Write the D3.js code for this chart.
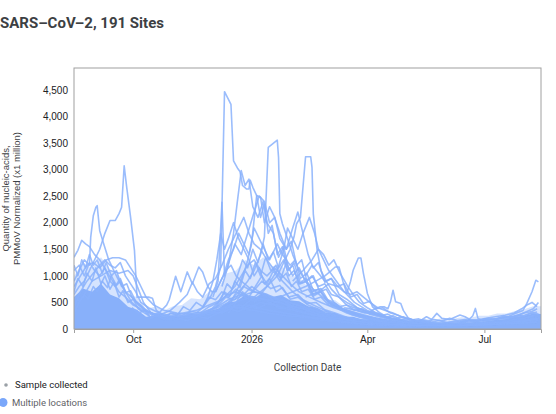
<!DOCTYPE html>
<html>
<head>
<meta charset="utf-8">
<script src="https://cdn.jsdelivr.net/npm/d3@7"></script>
<style>
  body { margin: 0; background: #fff; }
  svg { display: block; }
</style>
</head>
<body>
<div class="chart"></div>
<script>
// first collection day, every site point is [days after start, value]
var startDay = "2025-08-16";
var endDay = "2026-08-14";

// dense mass of the 191 sites, weekly levels
var coreLevel = [600, 760, 700, 850, 650, 580, 420, 360, 230, 250, 200, 240, 230, 290, 270, 340,
  380, 500, 520, 640, 580, 680, 600, 640, 540, 520, 430, 400, 300, 300, 230, 230, 180, 180, 130,
  130, 100, 110, 90, 100, 95, 105, 100, 115, 115, 140, 150, 180, 190, 230, 250, 290, 280];
var fringeLevel = [1000, 1250, 1150, 1350, 1100, 1000, 650, 600, 380, 420, 350, 430, 450, 580, 560,
  700, 760, 1050, 1100, 1300, 1200, 1350, 1180, 1200, 1000, 980, 780, 740, 560, 540, 420, 420, 320,
  320, 230, 240, 190, 200, 170, 190, 180, 200, 190, 220, 210, 250, 250, 290, 290, 340, 370, 430, 430];

var s1 = [[0,650],[4,800],[8,900],[12,1100],[16,1300],[20,1500],[24,1800],[28,2040],[32,2040],[35,2170],[37,2290],[39,3070],[41,2660],[44,2100],[47,1480],[49,600],[53,600],[58,600],[61,580],[64,350],[70,250],[77,300],[84,260],[91,330],[98,300],[105,420],[112,500],[119,640],[126,700],[133,600],[140,520],[147,560],[154,480],[161,420],[168,380],[175,320],[182,280],[189,220],[196,180],[203,150],[210,120],[224,90],[238,70],[252,80],[266,60],[280,70],[294,80],[308,90],[322,120],[336,150],[350,200],[358,260]];
var s2 = [[0,900],[4,1100],[8,1300],[12,1200],[13,1730],[15,2130],[17,2290],[18,2320],[20,1850],[23,1610],[27,1300],[31,1100],[35,900],[40,700],[45,500],[52,350],[60,300],[70,200],[80,250],[90,220],[100,260],[110,300],[120,420],[130,380],[140,350],[150,300],[165,250],[180,220],[195,160],[210,130],[230,80],[250,60],[270,50],[290,60],[310,70],[330,90],[350,140],[360,180]];
var s3 = [[0,1350],[3,1480],[6,1667],[9,1600],[12,1550],[16,1400],[20,1300],[25,1100],[30,900],[35,700],[40,600],[46,450],[52,380],[60,300],[70,250],[80,200],[92,240],[104,300],[116,380],[128,450],[140,400],[152,350],[164,300],[176,250],[190,200],[205,150],[220,110],[240,80],[260,60],[280,50],[300,60],[320,80],[340,110],[360,140]];
var s4 = [[0,800],[5,1000],[10,1200],[15,1250],[20,1150],[25,1300],[30,1340],[35,1340],[40,1300],[44,1150],[48,1000],[52,800],[56,600],[62,450],[70,350],[80,300],[90,280],[100,320],[110,400],[120,550],[130,650],[140,600],[150,550],[160,500],[172,420],[184,350],[196,280],[210,200],[225,140],[245,100],[265,70],[285,60],[305,70],[325,90],[345,120],[360,160]];
var s5 = [[0,500],[7,600],[14,900],[21,1000],[28,1100],[35,1050],[42,1100],[46,1000],[50,750],[54,500],[60,300],[68,200],[78,180],[88,220],[98,260],[108,330],[118,420],[128,520],[138,600],[148,560],[158,500],[170,430],[182,360],[195,280],[210,200],[228,140],[248,90],[268,70],[288,60],[308,70],[328,90],[348,120],[360,150]];
var s6 = [[60,250],[66,300],[72,450],[74,550],[79,993],[83,700],[88,1074],[92,850],[97,1167],[100,1074],[104,800],[107,700],[110,700],[114,900],[118,1100],[122,1200],[126,1000],[130,900],[135,800],[140,700],[147,650],[154,600],[161,500],[168,420],[175,350],[182,300],[196,200],[210,150],[224,100],[238,80],[252,60],[266,50],[280,60],[294,70],[308,80],[322,100],[336,120],[350,150],[360,170]];
var s7 = [[55,300],[65,250],[75,350],[82,500],[88,650],[92,880],[96,700],[100,600],[105,850],[110,950],[115,1200],[120,1500],[124,1700],[128,1900],[132,2100],[136,1800],[140,1600],[145,1500],[150,1300],[156,1100],[162,900],[170,700],[178,550],[186,450],[195,350],[205,250],[220,180],[240,120],[260,90],[280,80],[300,90],[320,100],[340,140],[360,200]];
var s8 = [[100,400],[106,600],[110,800],[114,1170],[117,4464],[122,4227],[124,3165],[127,3030],[129,2965],[131,2700],[134,2635],[136,2635],[137,2800],[139,2665],[142,2510],[145,2100],[148,2350],[151,1800],[154,1950],[158,1400],[162,1550],[166,1100],[170,1200],[175,850],[180,900],[186,620],[192,700],[198,480],[205,420],[215,280],[230,180],[250,120],[270,90],[290,80],[310,90],[330,110],[350,150],[360,180]];
var s9 = [[108,600],[112,900],[115,2385],[117,1000],[121,1300],[125,1600],[130,1400],[135,1800],[140,2200],[144,2500],[148,2400],[152,2000],[156,2100],[160,1800],[165,1500],[169,1650],[173,1200],[177,1300],[181,900],[186,1000],[191,700],[196,750],[202,500],[210,350],[225,250],[245,150],[265,100],[285,80],[305,80],[325,100],[345,130],[360,160]];
var s10 = [[120,500],[128,700],[135,900],[140,1100],[145,1400],[148,1730],[151,3415],[158,3553],[159,3227],[160,2167],[162,1980],[166,1700],[170,1400],[175,1100],[180,900],[188,700],[196,550],[205,400],[215,300],[230,200],[250,120],[270,100],[290,90],[310,100],[330,120],[350,160],[360,200]];
var s11 = [[130,400],[140,600],[150,800],[158,1000],[164,1300],[168,1500],[171,1730],[173,1980],[176,2100],[180,3240],[184,3240],[185,3040],[186,2167],[189,1480],[192,1100],[196,900],[200,750],[206,600],[212,500],[220,400],[230,300],[245,200],[260,130],[280,100],[300,90],[320,110],[340,140],[358,190]];
var s12 = [[115,800],[120,1200],[124,1800],[127,2400],[130,2980],[133,2700],[136,2820],[139,2300],[143,2100],[147,2400],[150,2000],[155,1800],[159,1350],[163,1550],[167,1100],[171,1250],[176,850],[181,900],[186,650],[192,700],[200,450],[212,350],[225,250],[240,180],[260,110],[280,90],[300,80],[320,100],[340,130],[360,170]];
var s13 = [[120,400],[128,800],[134,1200],[138,1600],[142,2510],[145,2480],[148,2000],[152,2300],[156,2100],[160,1700],[165,1500],[170,1900],[174,2200],[178,1800],[182,1400],[186,1150],[190,1250],[195,880],[200,950],[206,650],[212,560],[220,400],[232,300],[245,200],[260,140],[280,100],[300,90],[320,100],[340,130],[360,160]];
var s14 = [[140,500],[150,800],[158,1100],[163,1500],[166,1900],[170,1700],[174,1500],[178,1800],[183,2100],[187,1800],[190,1500],[194,1300],[198,1100],[204,900],[210,700],[218,500],[228,350],[240,250],[255,150],[270,100],[290,80],[310,80],[330,100],[350,140],[360,170]];
var s15 = [[110,700],[116,1000],[120,1300],[124,1500],[128,1800],[132,1600],[136,1400],[140,1900],[144,1700],[148,1500],[152,1300],[158,1600],[162,1400],[168,1200],[172,1300],[176,950],[181,1050],[186,720],[192,760],[198,520],[206,400],[220,300],[235,200],[250,130],[270,90],[290,80],[310,70],[330,90],[350,120],[360,150]];
var s16 = [[160,600],[170,700],[180,800],[188,900],[195,1000],[200,1100],[203,1167],[206,1167],[209,900],[212,674],[215,900],[217,1105],[221,1336],[223,1336],[225,1043],[228,674],[232,418],[238,300],[245,200],[255,150],[265,120],[280,100],[300,90],[320,100],[340,120],[360,150]];
var s17 = [[170,900],[178,1100],[185,1300],[190,1500],[194,1400],[198,1200],[202,1300],[207,1043],[210,918],[213,793],[217,650],[222,500],[228,400],[235,300],[245,200],[260,130],[280,90],[300,80],[320,90],[340,120],[360,160]];
var s18 = [[210,400],[220,350],[228,300],[234,380],[238,420],[241,418],[244,380],[246,511],[248,730],[250,511],[254,481],[256,350],[260,200],[266,150],[275,120],[290,100],[305,110],[320,120],[335,140],[350,170],[360,200]];
var s19 = [[280,100],[290,120],[300,130],[306,150],[310,250],[312,387],[314,200],[318,150],[326,180],[334,200],[342,230],[350,260],[356,300],[360,320]];
var s20 = [[300,120],[310,140],[320,160],[330,200],[338,240],[344,300],[349,350],[352,481],[356,700],[359,918],[361,886]];
var s21 = [[230,300],[238,250],[246,200],[254,180],[262,150],[268,140],[274,230],[278,180],[282,294],[286,200],[292,180],[296,220],[300,262],[304,230],[308,170],[314,150],[320,170],[328,190],[336,220],[344,250],[350,300],[356,330],[360,380]];
var s22 = [[300,150],[315,180],[325,220],[335,260],[342,300],[348,380],[352,450],[356,500],[360,420]];
var s23 = [[180,600],[190,700],[198,850],[205,800],[210,700],[215,650],[220,700],[225,600],[230,500],[236,400],[242,350],[248,300],[255,220],[265,150],[280,110],[300,100],[320,110],[340,130],[360,180]];
var s24 = [[0,1100],[4,1200],[8,1000],[12,1250],[16,1100],[20,1000],[24,1150],[28,900],[32,800],[36,950],[40,700],[45,600],[50,450],[56,350],[64,250],[72,200],[80,220],[90,250],[100,300],[110,380],[120,500],[130,620],[140,700],[150,650],[160,550],[170,480],[180,400],[190,330],[200,260],[215,180],[230,120],[250,80],[270,60],[290,60],[310,70],[330,90],[350,120],[360,150]];
var s25 = [[0,400],[5,700],[10,900],[15,1050],[20,1200],[24,1300],[28,1200],[32,1150],[36,1250],[40,1000],[44,850],[48,700],[52,500],[58,400],[66,300],[75,250],[85,300],[95,350],[105,450],[115,550],[125,800],[130,1000],[135,1200],[140,1300],[145,1100],[150,1000],[156,1150],[162,1000],[168,850],[175,700],[183,600],[192,500],[202,400],[215,300],[230,200],[250,130],[270,100],[290,90],[310,90],[330,100],[350,130],[360,160]];
var s26 = [[95,300],[100,400],[104,600],[108,900],[111,1300],[114,1792],[117,1500],[120,1700],[124,2000],[128,1700],[132,1500],[136,1300],[140,1000],[144,1150],[148,850],[152,950],[157,700],[162,780],[168,560],[174,600],[182,450],[192,350],[205,250],[220,180],[240,120],[260,80],[280,60],[300,60],[320,70],[340,100],[360,130]];
var s27 = [[0,700],[3,950],[7,800],[10,1050],[14,900],[17,1150],[21,850],[24,1000],[28,750],[31,880],[35,600],[38,720],[42,500],[46,560],[50,380],[55,300],[60,220],[66,260],[72,180],[80,200],[88,160],[96,240],[104,200],[112,300],[120,380],[128,330],[136,450],[144,400],[152,500],[160,380],[168,420],[176,320],[184,340],[192,250],[200,230],[210,170],[222,140],[236,100],[250,80],[265,60],[280,70],[295,55],[310,80],[325,90],[340,110],[352,150],[361,170]];
var s28 = [[0,300],[4,500],[8,650],[11,560],[15,800],[18,700],[22,900],[26,780],[29,1000],[33,820],[36,900],[40,680],[44,720],[48,520],[52,450],[57,330],[62,280],[68,200],[75,230],[82,180],[90,300],[97,260],[104,350],[111,420],[118,600],[125,550],[132,800],[139,700],[146,900],[153,760],[160,820],[167,600],[174,650],[181,480],[188,500],[195,360],[203,300],[212,220],[222,180],[234,120],[248,90],[262,70],[276,80],[290,60],[305,70],[320,100],[335,120],[348,160],[360,200]];
var s29 = [[100,250],[106,350],[112,500],[117,700],[121,620],[125,900],[129,780],[133,1100],[137,950],[141,1250],[145,1000],[149,1350],[153,1100],[157,1200],[161,950],[165,1050],[169,800],[173,900],[177,700],[182,750],[187,560],[192,600],[198,450],[204,400],[212,300],[222,220],[234,150],[248,100],[262,80],[276,60],[290,70],[305,60],[320,80],[335,100],[350,130],[361,150]];
var s30 = [[110,400],[115,600],[119,850],[123,750],[127,1000],[131,1300],[135,1150],[139,1500],[143,1250],[147,1600],[151,1300],[155,1450],[159,1150],[163,1300],[167,1000],[171,1100],[175,850],[180,950],[185,700],[190,750],[196,560],[202,500],[209,380],[218,300],[230,200],[244,130],[258,90],[272,70],[286,60],[300,70],[315,80],[330,100],[345,130],[360,170]];
var s31 = [[120,300],[126,500],[131,700],[136,600],[141,800],[146,1000],[150,850],[155,1100],[160,900],[165,1250],[170,1000],[175,1150],[180,900],[185,1000],[190,800],[195,850],[200,650],[206,600],[212,450],[220,380],[230,280],[242,200],[256,130],[270,90],[284,70],[298,60],[312,70],[326,90],[340,110],[354,140],[361,160]];
var s32 = [[45,400],[50,300],[55,350],[60,200],[65,260],[70,180],[75,300],[80,250],[85,420],[90,350],[95,500],[100,420],[105,600],[110,550],[115,700],[120,600],[126,750],[132,650],[138,800],[144,700],[150,650],[156,500],[162,550],[170,420],[178,380],[186,300],[195,260],[205,200],[218,150],[232,110],[248,80],[264,60],[280,70],[296,60],[312,80],[328,100],[344,130],[360,160]];
var s33 = [[200,500],[206,420],[212,450],[218,350],[224,380],[230,280],[236,300],[242,220],[248,250],[254,180],[260,200],[266,150],[272,170],[278,130],[284,160],[290,120],[296,150],[302,130],[308,170],[314,150],[320,190],[326,170],[332,220],[338,200],[344,260],[350,240],[355,300],[361,280]];
var s34 = [[220,350],[226,300],[232,330],[238,250],[244,280],[250,200],[256,230],[262,170],[268,190],[274,140],[280,180],[286,150],[292,200],[298,160],[304,180],[310,140],[316,170],[322,200],[328,180],[334,240],[340,210],[346,270],[352,330],[357,380],[361,500]];
var s35 = [[180,1000],[185,1200],[190,1050],[195,900],[200,950],[205,800],[210,850],[215,600],[220,650],[225,480],[230,520],[235,380],[240,400],[246,300],[252,260],[258,200],[265,160],[272,130],[280,110],[290,90],[300,100],[312,90],[325,110],[340,130],[352,160],[361,190]];
var s36 = [[0,1200],[3,1000],[6,1300],[9,1150],[12,1400],[15,1200],[18,1300],[22,1050],[25,1250],[29,1000],[33,1100],[37,800],[41,850],[45,600],[49,500],[54,380],[60,300],[67,250],[75,220],[85,260],[95,240],[105,320],[115,300],[125,420],[135,380],[145,500],[155,450],[165,380],[175,330],[185,270],[198,220],[212,170],[228,120],[245,90],[262,70],[280,60],[300,60],[320,80],[340,100],[360,130]];

var sites = [s1, s2, s3, s4, s5, s6, s7, s8, s9, s10, s11, s12, s13, s14, s15, s16, s17, s18,
  s19, s20, s21, s22, s23, s24, s25, s26, s27, s28, s29, s30, s31, s32, s33, s34, s35, s36];

var yTicks = [0, 500, 1000, 1500, 2000, 2500, 3000, 3500, 4000, 4500];
var xTicks = ["2025-10-01", "2026-01-01", "2026-04-01", "2026-07-01"];
var xTickLabels = ["Oct", "2026", "Apr", "Jul"];

var width = 556;
var height = 414;
var margin = {top: 68, right: 15, bottom: 85, left: 74};

var lineColor = "#8ab2fb";
var parse = d3.utcParse("%Y-%m-%d");
var start = parse(startDay);

var svg = d3.select(".chart").append("svg")
    .attr("width", width)
    .attr("height", height);

var x = d3.scaleUtc()
    .domain([start, parse(endDay)])
    .range([margin.left, width - margin.right]);

var maxVal = d3.max(sites, function(s) { return d3.max(s, function(p) { return p[1]; }); });
var y = d3.scaleLinear()
    .domain([0, maxVal * 1.1])
    .range([height - margin.bottom, margin.top]);

function day(d) { return d3.utcDay.offset(start, d); }

svg.append("text")
    .attr("x", 0)
    .attr("y", 28)
    .style("font-family", "Roboto, sans-serif")
    .style("font-weight", "700")
    .style("font-size", "15px")
    .style("fill", "#3c4043")
    .text("SARS\u2013CoV\u20132, 191 Sites");

svg.append("clipPath").attr("id", "plot")
  .append("rect")
    .attr("x", margin.left)
    .attr("y", margin.top)
    .attr("width", width - margin.right - margin.left)
    .attr("height", height - margin.bottom - margin.top);

var g = svg.append("g").attr("clip-path", "url(#plot)");

var band = d3.area()
    .x(function(d, i) { return x(day(i * 7)); })
    .y0(y(0))
    .y1(function(d) { return y(d); });

g.append("path")
    .datum(fringeLevel)
    .attr("d", band)
    .style("fill", lineColor)
    .style("opacity", 0.35);

g.append("path")
    .datum(coreLevel)
    .attr("d", band)
    .style("fill", "#88b0fa");

var line = d3.line()
    .x(function(d) { return x(day(d[0])); })
    .y(function(d) { return y(d[1]); });

g.selectAll(".site")
    .data(sites)
    .enter().append("path")
    .attr("class", "site")
    .attr("d", line)
    .style("fill", "none")
    .style("stroke", lineColor)
    .style("stroke-width", 1.6)
    .style("stroke-opacity", 0.85)
    .style("stroke-linejoin", "round");

// frame
svg.append("rect")
    .attr("x", margin.left)
    .attr("y", margin.top)
    .attr("width", width - margin.right - margin.left)
    .attr("height", height - margin.bottom - margin.top)
    .style("fill", "none")
    .style("stroke", "#a0a0a0");

var xAxis = svg.append("g")
    .attr("transform", "translate(0," + (height - margin.bottom) + ")")
    .call(d3.axisBottom(x)
        .tickValues(xTicks.map(parse))
        .tickSize(4)
        .tickFormat(function(d, i) { return xTickLabels[i]; }));
xAxis.select(".domain").style("stroke", "#a0a0a0");
xAxis.selectAll(".tick line").style("stroke", "#a0a0a0");
xAxis.selectAll("text")
    .style("font-family", "'Liberation Sans', Arial, sans-serif")
    .style("font-size", "10px")
    .style("fill", "#202124");

var yAxis = svg.append("g")
    .attr("transform", "translate(" + margin.left + ",0)")
    .call(d3.axisLeft(y)
        .tickValues(yTicks)
        .tickSize(0)
        .tickPadding(6)
        .tickFormat(d3.format(",")));
yAxis.select(".domain").remove();
yAxis.selectAll("text")
    .style("font-family", "'Liberation Sans', Arial, sans-serif")
    .style("font-size", "10px")
    .style("fill", "#202124");

svg.append("text")
    .attr("transform", "translate(12," + ((margin.top + height - margin.bottom) / 2) + ") rotate(-90)")
    .attr("text-anchor", "middle")
    .style("font-family", "'Liberation Sans', Arial, sans-serif")
    .style("font-size", "9.5px")
    .style("fill", "#3c4043")
    .selectAll("tspan")
    .data(["Quantity of nucleic-acids,", "PMMoV Normalized (x1 million)"])
    .enter().append("tspan")
    .attr("x", 0)
    .attr("dy", function(d, i) { return i ? "1.15em" : "-0.3em"; })
    .text(function(d) { return d; });

svg.append("text")
    .attr("x", (margin.left + width - margin.right) / 2)
    .attr("y", 371)
    .attr("text-anchor", "middle")
    .style("font-family", "Roboto, sans-serif")
    .style("font-size", "10px")
    .style("fill", "#3c4043")
    .text("Collection Date");

// legend
svg.append("circle")
    .attr("cx", 6).attr("cy", 385).attr("r", 1.8)
    .style("fill", "#9aa0a6");
svg.append("text")
    .attr("x", 15).attr("y", 388)
    .style("font-family", "Roboto, sans-serif")
    .style("font-size", "9.5px")
    .style("fill", "#202124")
    .text("Sample collected");

svg.append("circle")
    .attr("cx", 3).attr("cy", 402.5).attr("r", 4.5)
    .style("fill", "#7aa7fa");
svg.append("text")
    .attr("x", 12).attr("y", 406)
    .style("font-family", "Roboto, sans-serif")
    .style("font-size", "9.5px")
    .style("fill", "#5f6368")
    .text("Multiple locations");
</script>
</body>
</html>
